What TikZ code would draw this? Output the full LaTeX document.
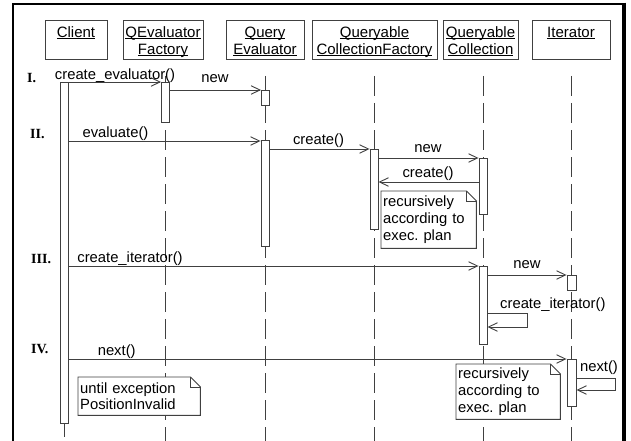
\documentclass[tikz,border=0pt]{standalone}
\usepackage{fontspec}
\setmainfont{Liberation Sans}
\newfontfamily\numfont{Liberation Serif}
\usetikzlibrary{arrows.meta,calc}
\definecolor{lc}{gray}{0.25}
\frenchspacing
\newcommand\myul[1]{\setbox0\hbox{#1}\rlap{\rule[-1.6pt]{\wd0}{0.7pt}}\box0}
\begin{document}
\begin{tikzpicture}[x=1pt,y=-1pt,
  ln/.style={draw=lc, line width=0.9pt},
  hdr/.style={draw=lc, line width=0.9pt, inner sep=0pt, text height=17pt, text depth=22pt, anchor=north, font=\fontsize{15}{17}\selectfont},
  act/.style={draw=lc, fill=white, line width=0.9pt, minimum width=8pt, inner sep=0pt, anchor=north},
  msg/.style={ln, -{Straight Barb[length=9pt,width=8.5pt]}},
  lbl/.style={anchor=base, inner sep=0pt, font=\fontsize{14.8}{17}\selectfont},
  note/.style={fill=white, inner xsep=2pt, inner ysep=0pt, anchor=north west, align=left, font=\fontsize{14.8}{16.8}\selectfont},
  notefr/.style={ln},
  life/.style={ln, dash pattern=on 20pt off 7pt},
  num/.style={anchor=base west, inner sep=0pt, font=\numfont\bfseries\fontsize{14}{17}\selectfont}
]
\useasboundingbox (0,0) rectangle (631,441);
% frame
\draw[black, line width=2.6pt] (13,441) -- (13,4) -- (624,4);
\draw[black, line width=4pt] (624,2.7) -- (624,441);
% headers
\node[hdr, minimum width=62pt] (hC) at (76,20) {\begin{tabular}[t]{@{}c@{}}\myul{Client}\end{tabular}};
\node[hdr, minimum width=80pt] (hF) at (163,20) {\begin{tabular}[t]{@{}c@{}}\myul{QEvaluator}\\\myul{Factory}\end{tabular}};
\node[hdr, minimum width=78pt] (hE) at (265,20) {\begin{tabular}[t]{@{}c@{}}\myul{Query}\\\myul{Evaluator}\end{tabular}};
\node[hdr, minimum width=125pt] (hCF) at (374.5,20) {\begin{tabular}[t]{@{}c@{}}\myul{Queryable}\\\myul{CollectionFactory}\end{tabular}};
\node[hdr, minimum width=75pt] (hQC) at (480.5,20) {\begin{tabular}[t]{@{}c@{}}\myul{Queryable}\\\myul{Collection}\end{tabular}};
\node[hdr, minimum width=78pt] (hI) at (571,20) {\begin{tabular}[t]{@{}c@{}}\myul{Iterator}\end{tabular}};
% lifelines
\coordinate (lF) at (165,76);
\coordinate (lE) at (265,76);
\coordinate (lCF) at (374,76);
\coordinate (lQC) at (483,76);
\coordinate (lI) at (571.5,76);
\foreach \l in {lF,lE,lCF,lQC,lI} \draw[life] (\l) -- (\l |- 0,441);
% activations
\node[act, minimum height=341pt] (aC) at (64,82) {};
\coordinate (cEnd) at (64,437);
\draw[ln] (aC.south) -- (cEnd);
\node[act, minimum height=40pt] (aF) at (165.5,82) {};
\node[act, minimum height=15pt] (aE1) at (265.5,90) {};
\node[act, minimum height=106pt] (aE2) at (265,140) {};
\node[act, minimum height=80pt] (aCF) at (374,149) {};
\node[act, minimum height=56pt] (aQC1) at (483,158) {};
\node[act, minimum height=78pt] (aQC2) at (483,266) {};
\node[act, minimum width=9pt, minimum height=15pt] (aI1) at (571.5,275) {};
\node[act, minimum width=9pt, minimum height=47pt] (aI2) at (571.5,359) {};
% messages
\draw[msg] (aC.east |- 0,82) -- (aF.west |- 0,82);
\draw[msg] (aF.east |- 0,90) -- (aE1.west |- 0,90);
\draw[msg] (aC.east |- 0,141) -- (aE2.west |- 0,141);
\draw[msg] (aE2.east |- 0,149) -- (aCF.west |- 0,149);
\draw[msg] (aCF.east |- 0,158) -- (aQC1.west |- 0,158);
\draw[msg] (aQC1.west |- 0,182) -- (aCF.east |- 0,182);
\draw[msg] (aC.east |- 0,266) -- (aQC2.west |- 0,266);
\draw[msg] (aQC2.east |- 0,275) -- (aI1.west |- 0,275);
\draw[msg] (aQC2.east |- 0,313) -- (527,313) -- (527,327) -- (aQC2.east |- 0,327);
\draw[msg] (aC.east |- 0,359) -- (aI2.west |- 0,359);
\draw[msg] (aI2.east |- 0,378) -- (615,378) -- (615,390) -- (aI2.east |- 0,390);
% labels
\node[lbl] (l1) at (115,80) {create\_evaluator()};
\node[lbl] (l2) at (215,83) {new};
\node[lbl] (l3) at (115.5,137) {evaluate()};
\node[lbl] (l4) at (318.5,144) {create()};
\node[lbl] (l5) at (428,152) {new};
\node[lbl] (l6) at (428,177) {create()};
\node[lbl] (l7) at (130,262) {create\_iterator()};
\node[lbl] (l8) at (527,268) {new};
\node[lbl, anchor=base west] (l9) at (500,308) {create\_iterator()};
\node[lbl] (l10) at (116.7,355) {next()};
\node[lbl] (l11) at (599,371) {next()};
% numerals
\node[num] (r1) at (27,83) {I.};
\node[num] (r2) at (30,138) {II.};
\node[num] (r3) at (31,263) {III.};
\node[num] (r4) at (31,353) {IV.};
% notes
\node[note, minimum width=95pt, minimum height=57pt, text width=91pt] (n1) at (381,191) {recursively\\according to\\exec. plan};
\node[note, minimum width=104pt, minimum height=55pt, text width=100pt] (n2) at (456,364) {recursively\\according to\\exec. plan};
\node[note, minimum width=122pt, minimum height=38pt, text width=118pt] (n3) at (78,377) {until exception\\PositionInvalid};
\foreach \n in {n1,n2,n3} {
  \draw[notefr] (\n.north west) -- ($(\n.north east)+(-10,0)$) -- ($(\n.north east)+(0,10)$) -- (\n.south east) -- (\n.south west) -- cycle;
  \draw[notefr] ($(\n.north east)+(-10,0)$) |- ($(\n.north east)+(0,10)$);
}
\end{tikzpicture}
\end{document}
